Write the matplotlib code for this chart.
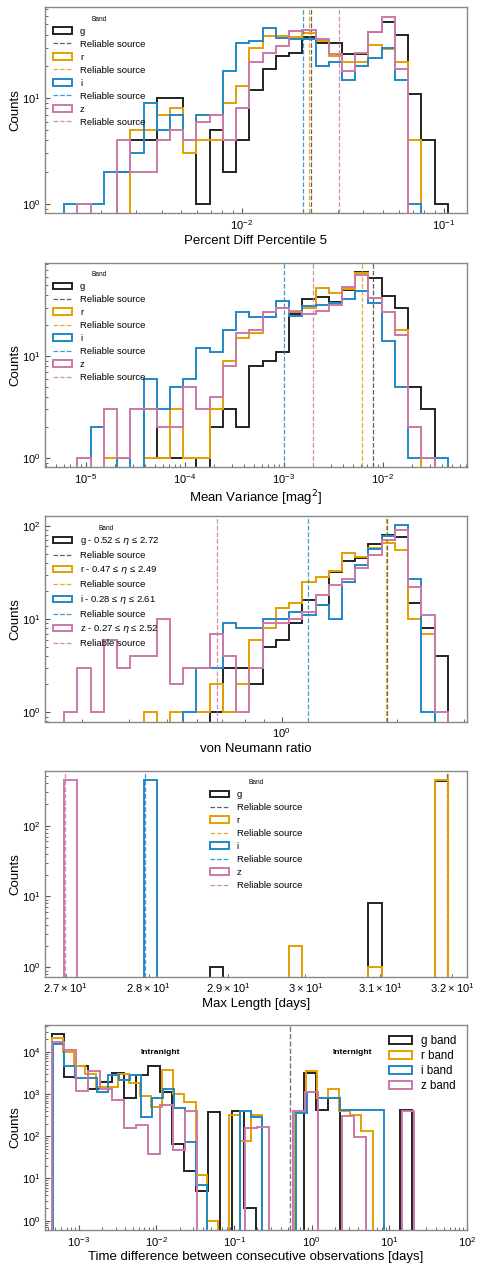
import numpy as np
import matplotlib
matplotlib.use("Agg")
import matplotlib.pyplot as plt
import matplotlib.transforms as mtransforms

plt.rcParams['font.family'] = ['Liberation Sans', 'DejaVu Sans']
plt.rcParams['axes.unicode_minus'] = True

bands = ['g', 'r', 'i', 'z']
hist_colors = ['#222222', '#E69F00', '#1f88c8', '#CC79A7']
line_colors = ['#444444', '#E69F00', '#1f88c8', '#CC79A7']

# --- panel 1: percent diff percentile 5 (29 log bins)
pd5_lo, pd5_hi = 1.318e-3, 0.1047
pd5_g = [0, 0, 0, 0, 2, 4, 4, 10, 10, 4, 1, 5, 2, 4, 12, 19, 25, 27, 38, 33, 33, 26, 26, 42, 53, 40, 11, 4, 1]
pd5_r = [0, 0, 0, 0, 0, 5, 5, 7, 8, 3, 4, 4, 9, 13, 30, 39, 39, 38, 41, 35, 25, 22, 22, 32, 29, 22, 4, 0, 0]
pd5_i = [1, 1, 1, 2, 2, 3, 9, 5, 7, 4, 7, 7, 18, 33, 35, 46, 37, 36, 36, 20, 22, 15, 20, 24, 30, 15, 1, 0, 0]
pd5_z = [0, 1, 0, 0, 4, 2, 2, 4, 5, 4, 6, 7, 4, 8, 22, 27, 31, 43, 44, 36, 26, 18, 27, 42, 59, 19, 0, 0, 0]
pd5_reliable = [0.0219, 0.0214, 0.0200, 0.0304]

# --- panel 2: mean variance
mv_lo, mv_hi = 6.07e-6, 0.0455
mv_g = [0, 0, 0, 0, 0, 0, 3, 1, 1, 1, 0, 2, 3, 2, 8, 9, 11, 26, 36, 38, 34, 45, 67, 58, 39, 30, 5, 3, 0]
mv_r = [0, 0, 0, 1, 0, 0, 1, 1, 3, 1, 1, 3, 9, 15, 17, 27, 30, 28, 30, 47, 42, 46, 65, 37, 27, 18, 2, 0, 0]
mv_i = [0, 0, 2, 0, 1, 0, 6, 3, 5, 6, 12, 11, 18, 27, 24, 24, 35, 25, 31, 32, 33, 36, 44, 33, 14, 5, 1, 1, 1]
mv_z = [0, 1, 0, 3, 1, 3, 3, 2, 2, 5, 3, 4, 8, 17, 18, 27, 30, 27, 26, 28, 32, 48, 63, 37, 27, 16, 2, 1, 0]
mv_reliable = [8.0e-3, 6.21e-3, 1.0e-3, 1.98e-3]

# --- panel 3: von Neumann ratio
vn_lo, vn_hi = 0.27, 2.72
vn_g = [0, 0, 0, 0, 0, 0, 0, 0, 0, 0, 0, 1, 3, 3, 2, 5, 6, 9, 16, 14, 32, 42, 45, 63, 80, 75, 15, 8, 4]
vn_r = [0, 0, 0, 0, 0, 0, 1, 0, 1, 1, 1, 2, 1, 2, 6, 8, 13, 15, 25, 28, 33, 51, 46, 58, 65, 55, 10, 7, 0]
vn_i = [0, 0, 0, 0, 0, 0, 0, 0, 0, 1, 3, 3, 9, 8, 8, 10, 10, 12, 11, 14, 10, 25, 38, 57, 78, 101, 27, 1, 0]
vn_z = [1, 3, 1, 6, 3, 4, 4, 10, 2, 3, 3, 7, 4, 1, 3, 9, 9, 10, 12, 18, 23, 27, 35, 48, 70, 91, 22, 11, 1]
vn_eta = [(0.52, 2.72), (0.47, 2.49), (0.28, 2.61), (0.27, 2.52)]
vn_reliable = [1.888, 1.869, 1.170, 0.678]

# --- panel 4: max length
ml_lo, ml_hi = 26.98, 31.94
ml_g = [0] * 11 + [1] + [0] * 11 + [8] + [0] * 4 + [431]
ml_r = [0] * 17 + [2] + [0] * 5 + [1] + [0] * 4 + [437]
ml_i = [0] * 6 + [440] + [0] * 22
ml_z = [440] + [0] * 28
ml_reliable = [31.93, 31.94, 27.96, 26.99]

# --- panel 5: time between consecutive observations (own bins per band)
dt_range = [(4.49e-4, 19.5, 30), (4.49e-4, 6.08, 29), (4.71e-4, 8.43, 30), (4.49e-4, 20.9, 30)]
dt_g = [26000, 2500, 4500, 1300, 1900, 3100, 800, 2900, 4700, 1100, 66, 15, 5, 370, 0,
        400, 2, 0, 0, 0, 0, 3200, 430, 810, 0, 0, 0, 0, 0, 410]
dt_r = [21000, 10000, 4500, 3000, 1500, 1500, 3000, 1800, 900, 500, 3800, 1000, 640, 12, 1,
        0, 320, 78, 320, 0, 0, 0, 400, 3500, 800, 1300, 400, 320, 136]
dt_i = [15000, 4700, 2400, 2400, 1100, 2900, 2100, 2900, 290, 800, 1300, 470, 72, 7, 0,
        0, 0, 400, 290, 0, 0, 0, 360, 1100, 800, 800, 420, 420, 420, 420]
dt_z = [17000, 11000, 1150, 3500, 1300, 740, 160, 180, 38, 550, 47, 390, 0, 0, 0,
        0, 160, 165, 0, 0, 400, 1100, 0, 0, 310, 98, 0, 0, 0, 400]
dt_split = 0.53


def style_axes(ax):
    ax.set_xscale('log')
    ax.set_yscale('log')
    for s in ax.spines.values():
        s.set_color('#888888')
        s.set_linewidth(1.0)
    ax.tick_params(which='both', direction='in', colors='#555555', labelcolor='black',
                   labelsize=8)
    ax.tick_params(which='major', length=3.5)
    ax.tick_params(which='minor', length=2)


def log_margin(lo, hi, frac=0.05):
    a, b = np.log10(lo), np.log10(hi)
    m = frac * (b - a)
    return 10 ** (a - m), 10 ** (b + m)


def band_panel(ax, lo, hi, counts, reliable, labels, xlabel, loc):
    edges = np.logspace(np.log10(lo), np.log10(hi), len(counts[0]) + 1)
    handles = []
    names = []
    ymax = max(max(c) for c in counts)
    for k in range(4):
        _, _, p = ax.hist(edges[:-1], bins=edges, weights=counts[k], histtype='step',
                          color=hist_colors[k], lw=1.4, log=True)
        ln = ax.axvline(reliable[k], color=line_colors[k], ls='--', lw=0.9, alpha=0.85)
        handles += [p[0], ln]
        names += [labels[k], 'Reliable source']
    style_axes(ax)
    ax.set_xlim(*log_margin(lo, hi))
    L = np.log10(ymax)
    ax.set_ylim(10 ** (-0.05 * L), 10 ** (1.05 * L))
    ax.set_xlabel(xlabel, fontsize=9.5, labelpad=2)
    ax.set_ylabel('Counts', fontsize=9.5, labelpad=0)
    ax.legend(handles, names, title='Band', title_fontsize=4.7, fontsize=6.8,
              frameon=False, loc=loc, labelspacing=0.42, handlelength=2.0)


fig = plt.figure(figsize=(4.85, 12.7), dpi=100)
W, H = 485.0, 1270.0
tops = [7.3, 262.7, 516.0, 770.7, 1025.0]
bots = [213.3, 467.3, 721.7, 976.7, 1230.0]
axs = [fig.add_axes([45 / W, 1 - b / H, 422 / W, (b - t) / H]) for t, b in zip(tops, bots)]

band_panel(axs[0], pd5_lo, pd5_hi, [pd5_g, pd5_r, pd5_i, pd5_z], pd5_reliable,
           bands, 'Percent Diff Percentile 5', 'upper left')
band_panel(axs[1], mv_lo, mv_hi, [mv_g, mv_r, mv_i, mv_z], mv_reliable,
           bands, r'Mean Variance [mag$^2$]', 'upper left')
vn_labels = [u'%s - %.2f \u2264 $\\eta$ \u2264 %.2f' % (b, e[0], e[1]) for b, e in zip(bands, vn_eta)]
band_panel(axs[2], vn_lo, vn_hi, [vn_g, vn_r, vn_i, vn_z], vn_reliable,
           vn_labels, 'von Neumann ratio', 'upper left')
band_panel(axs[3], ml_lo, ml_hi, [ml_g, ml_r, ml_i, ml_z], ml_reliable,
           bands, 'Max Length [days]', 'upper center')

# panel 5
ax = axs[4]
dt_counts = [dt_g, dt_r, dt_i, dt_z]
for k in range(4):
    lo, hi, n = dt_range[k]
    edges = np.logspace(np.log10(lo), np.log10(hi), n + 1)
    ax.hist(edges[:-1], bins=edges, weights=dt_counts[k], histtype='step',
            color=hist_colors[k], lw=1.4, log=True, label=bands[k] + ' band')
style_axes(ax)
ax.axvline(dt_split, color='#777777', ls='--', lw=1.0)
ax.set_xlim(3.68e-4, 100)
L = np.log10(max(max(c) for c in dt_counts))
ax.set_ylim(10 ** (-0.05 * L), 10 ** (1.05 * L))
trans = mtransforms.blended_transform_factory(ax.transData, ax.transAxes)
ax.text(0.0112, 0.865, 'Intranight', transform=trans, ha='center', va='center',
        fontsize=6, fontweight='bold')
ax.text(3.33, 0.865, 'Internight', transform=trans, ha='center', va='center',
        fontsize=6, fontweight='bold')
ax.set_xlabel('Time difference between consecutive observations [days]', fontsize=9.5, labelpad=2)
ax.set_ylabel('Counts', fontsize=9.5, labelpad=0)
ax.legend(loc='upper right', frameon=False, fontsize=8.3, labelspacing=0.25)

fig.savefig('out.png', dpi=100)
